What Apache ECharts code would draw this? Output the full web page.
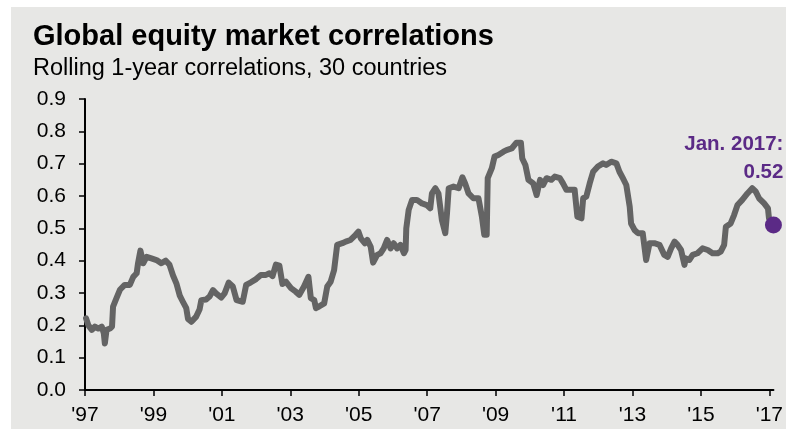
<!DOCTYPE html>
<html>
<head>
<meta charset="utf-8">
<script src="https://cdn.jsdelivr.net/npm/echarts@6/dist/echarts.min.js"></script>
<style>html,body{margin:0;padding:0;background:#fff}#c{width:786px;height:438px}</style>
</head>
<body>
<div id="c"></div>
<script>
var titleText = 'Global equity market correlations';
var subtitleText = 'Rolling 1-year correlations, 30 countries';

var years = [1997.03,1997.10,1997.20,1997.29,1997.39,1997.49,1997.55,1997.58,1997.63,1997.73,1997.79,1997.82,1997.92,1998.02,1998.16,1998.31,1998.41,1998.51,1998.55,1998.62,1998.70,1998.80,1998.94,1999.09,1999.23,1999.36,1999.47,1999.57,1999.67,1999.77,1999.86,1999.96,2000.01,2000.11,2000.25,2000.35,2000.40,2000.54,2000.64,2000.74,2000.83,2000.98,2001.08,2001.20,2001.32,2001.37,2001.43,2001.61,2001.71,2001.85,2002.00,2002.14,2002.29,2002.39,2002.48,2002.58,2002.68,2002.77,2002.87,2003.02,2003.16,2003.26,2003.40,2003.53,2003.60,2003.70,2003.75,2003.84,2003.99,2004.08,2004.18,2004.28,2004.37,2004.52,2004.62,2004.76,2004.91,2004.99,2005.06,2005.18,2005.25,2005.35,2005.42,2005.54,2005.64,2005.73,2005.83,2005.93,2006.02,2006.12,2006.22,2006.32,2006.37,2006.39,2006.46,2006.56,2006.70,2006.85,2006.99,2007.09,2007.14,2007.24,2007.33,2007.43,2007.53,2007.58,2007.63,2007.77,2007.92,2008.03,2008.11,2008.21,2008.35,2008.50,2008.60,2008.67,2008.74,2008.77,2008.89,2008.97,2009.08,2009.23,2009.32,2009.47,2009.61,2009.74,2009.78,2009.87,2009.96,2010.10,2010.20,2010.30,2010.39,2010.49,2010.63,2010.73,2010.88,2010.97,2011.07,2011.22,2011.31,2011.39,2011.51,2011.56,2011.65,2011.75,2011.85,2011.99,2012.14,2012.23,2012.38,2012.53,2012.62,2012.72,2012.82,2012.92,2012.96,2013.06,2013.16,2013.30,2013.40,2013.50,2013.64,2013.79,2013.93,2014.03,2014.13,2014.23,2014.32,2014.42,2014.52,2014.56,2014.66,2014.76,2014.90,2015.05,2015.20,2015.34,2015.49,2015.58,2015.68,2015.73,2015.87,2015.97,2016.07,2016.21,2016.36,2016.50,2016.60,2016.70,2016.85,2016.96,2016.99];

var correlations = [0.222,0.200,0.186,0.196,0.190,0.196,0.175,0.144,0.186,0.190,0.196,0.258,0.284,0.310,0.325,0.325,0.350,0.361,0.392,0.431,0.392,0.412,0.407,0.402,0.392,0.400,0.387,0.355,0.330,0.292,0.273,0.253,0.220,0.211,0.227,0.250,0.278,0.280,0.289,0.309,0.299,0.286,0.299,0.332,0.320,0.325,0.278,0.273,0.325,0.333,0.343,0.356,0.356,0.361,0.352,0.388,0.385,0.328,0.335,0.315,0.304,0.294,0.320,0.350,0.284,0.278,0.253,0.258,0.268,0.320,0.335,0.371,0.449,0.454,0.459,0.464,0.480,0.490,0.469,0.454,0.464,0.443,0.394,0.418,0.423,0.438,0.464,0.438,0.454,0.438,0.449,0.423,0.433,0.500,0.557,0.588,0.588,0.577,0.572,0.562,0.608,0.624,0.608,0.526,0.485,0.547,0.624,0.629,0.624,0.658,0.639,0.608,0.593,0.593,0.536,0.480,0.480,0.655,0.686,0.722,0.727,0.737,0.742,0.747,0.765,0.765,0.716,0.696,0.650,0.639,0.603,0.650,0.634,0.655,0.650,0.660,0.655,0.639,0.619,0.619,0.619,0.536,0.531,0.593,0.598,0.639,0.675,0.691,0.701,0.696,0.706,0.701,0.675,0.655,0.634,0.567,0.515,0.495,0.485,0.485,0.402,0.454,0.454,0.449,0.418,0.412,0.438,0.459,0.449,0.433,0.387,0.407,0.402,0.418,0.423,0.438,0.433,0.423,0.423,0.428,0.449,0.505,0.515,0.541,0.572,0.588,0.608,0.624,0.614,0.593,0.577,0.562,0.531];

var latestYear = 2017.12;
var latestValue = 0.51;
var latestLabel = 'Jan. 2017:';
var latestLabelValue = '0.52';

var xTickValues = [1997,1999,2001,2003,2005,2007,2009,2011,2013,2015,2017];
var xTickLabels = ["'97","'99","'01","'03","'05","'07","'09","'11","'13","'15","'17"];
var yTickLabels = ['0.0','0.1','0.2','0.3','0.4','0.5','0.6','0.7','0.8','0.9'];

var lineData = years.map(function (y, i) { return [y, correlations[i]]; });
lineData.push([latestYear, latestValue]);

var FONT = '"Liberation Sans", Arial, sans-serif';
var PURPLE = '#5b2a86';
var chart = echarts.init(document.getElementById('c'), null, { renderer: 'canvas' });
chart.setOption({
  backgroundColor: '#ffffff',
  animation: false,
  graphic: [
    { type: 'rect', shape: { x: 11, y: 7, width: 775, height: 422 }, style: { fill: '#e7e7e5' }, z: -10 },
    { type: 'text', x: 33, y: 37, style: { text: titleText, font: 'bold 29px ' + FONT, fill: '#000', verticalAlign: 'middle' } },
    { type: 'text', x: 33, y: 69, style: { text: subtitleText, font: '23.5px ' + FONT, fill: '#000', verticalAlign: 'middle' } }
  ],
  grid: { left: 85, right: 10, top: 99, bottom: 48, containLabel: false },
  xAxis: {
    type: 'value', min: 1997, max: latestYear,
    axisLine: { show: true, lineStyle: { color: '#000', width: 2 } },
    axisTick: { show: true, length: 6, lineStyle: { color: '#000', width: 1.5 }, customValues: xTickValues },
    axisLabel: {
      customValues: xTickValues, margin: 15, color: '#000', fontSize: 21, fontFamily: FONT,
      formatter: function (v) { var i = xTickValues.indexOf(Math.round(v)); return i >= 0 ? xTickLabels[i] : ''; }
    },
    splitLine: { show: false }
  },
  yAxis: {
    type: 'value', min: 0, max: 0.9, interval: 0.1,
    axisLine: { show: true, lineStyle: { color: '#000', width: 2 } },
    axisTick: { show: true, length: 6, lineStyle: { color: '#000', width: 1.5 } },
    axisLabel: {
      margin: 19, color: '#000', fontSize: 21, fontFamily: FONT,
      formatter: function (v) { return yTickLabels[Math.round(v * 10)]; }
    },
    splitLine: { show: false }
  },
  series: [
    {
      type: 'line', data: lineData, showSymbol: false, symbol: 'none',
      lineStyle: { color: '#646464', width: 6, join: 'round', cap: 'round' }, z: 2
    },
    {
      type: 'scatter', data: [[latestYear, latestValue]], symbolSize: 17,
      itemStyle: { color: PURPLE, opacity: 1 }, z: 3, clip: false,
      label: {
        show: true, position: 'top', distance: 30, align: 'right', offset: [10, 0],
        color: PURPLE, fontWeight: 'bold', fontSize: 20.5, fontFamily: FONT, lineHeight: 28,
        formatter: function () { return latestLabel + '\n' + latestLabelValue; }
      }
    }
  ]
});
</script>
</body>
</html>
